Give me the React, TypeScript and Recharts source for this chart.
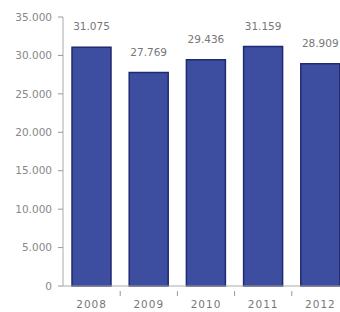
import React from 'react';
import { BarChart, Bar, XAxis, YAxis, LabelList } from 'recharts';

const years = ['2008', '2009', '2010', '2011', '2012'];
const values = [31075, 27769, 29436, 31159, 28909];
const yTicks = [0, 5000, 10000, 15000, 20000, 25000, 30000, 35000];

const data = years.map((y, i) => ({ year: y, value: values[i] }));

const fmt = (v: number) => {
  const s = String(Math.round(v));
  return s.replace(/\B(?=(\d{3})+(?!\d))/g, '.');
};

const XTick = (props: any) => {
  const { x, y, payload } = props;
  return (
    <g>
      <line x1={x + 28.6} y1={y - 3} x2={x + 28.6} y2={y + 2} stroke="#999" strokeWidth={1} />
      <text x={x} y={y + 14} textAnchor="middle" fill="#777" fontSize={10.5} fontFamily="DejaVu Sans" letterSpacing={1}>
        {payload.value}
      </text>
    </g>
  );
};

export default function App() {
  return (
    <div style={{ position: 'fixed', left: 0, top: 0, width: 340, height: 312, overflow: 'hidden', background: '#fff' }}>
      <BarChart width={349} height={312} data={data} margin={{ top: 17, right: 0, bottom: 0, left: 0 }}>
        <XAxis
          dataKey="year"
          height={26}
          axisLine={{ stroke: '#aaa' }}
          tickLine={false}
          tick={<XTick />}
          interval={0}
        />
        <YAxis
          width={63}
          domain={[0, 35000]}
          ticks={yTicks}
          interval={0}
          axisLine={{ stroke: '#aaa' }}
          tickLine={{ stroke: '#999' }}
          tickSize={5}
          tickMargin={6}
          tickFormatter={fmt}
          tick={{ fill: '#888', fontSize: 10.5, fontFamily: 'DejaVu Sans' }}
        />
        <Bar dataKey="value" barSize={39} fill="#3d4ea1" stroke="#1f2b70" strokeWidth={1.5} isAnimationActive={false}>
          <LabelList
            dataKey="value"
            position="top"
            offset={17}
            formatter={(v: any) => fmt(Number(v))}
            style={{ fill: '#777', fontSize: 10.5, fontFamily: 'DejaVu Sans' }}
          />
        </Bar>
      </BarChart>
    </div>
  );
}
